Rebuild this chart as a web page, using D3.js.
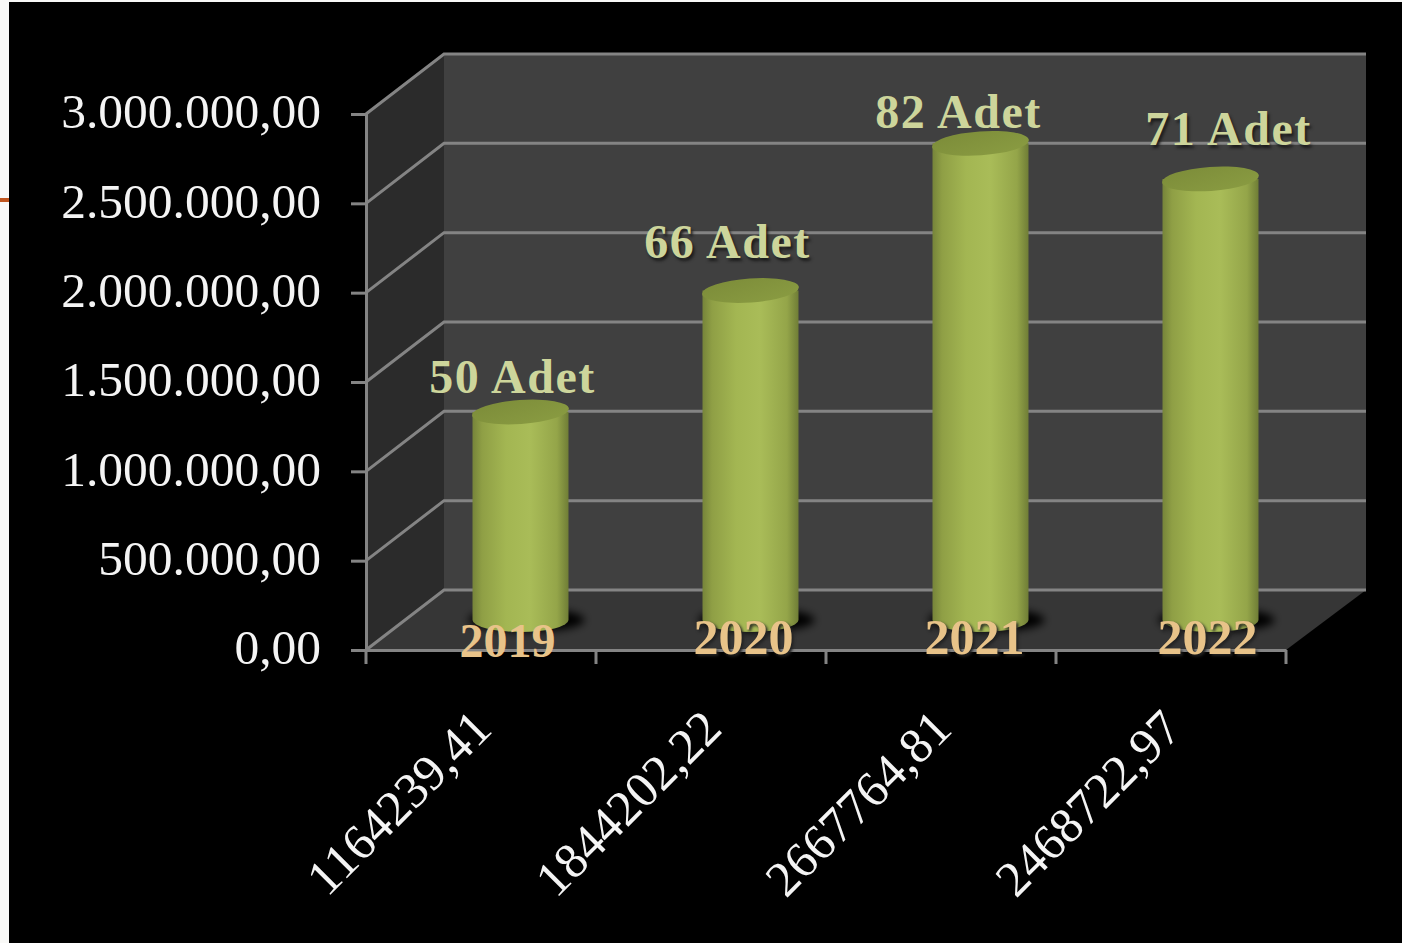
<!DOCTYPE html>
<html>
<head>
<meta charset="utf-8">
<title>Adet</title>
<script src="https://d3js.org/d3.v7.min.js"></script>
<style>
  html, body { margin: 0; padding: 0; background: #000; overflow: hidden; }
  text { font-family: "Liberation Serif", serif; }
</style>
</head>
<body>
<script>
// data
var years = ["2019", "2020", "2021", "2022"];
var values = [1164239.41, 1844202.22, 2667764.81, 2468722.97];
var valueLabels = ["1164239,41", "1844202,22", "2667764,81", "2468722,97"];
var counts = ["50 Adet", "66 Adet", "82 Adet", "71 Adet"];
var yTicks = [0, 500000, 1000000, 1500000, 2000000, 2500000, 3000000];

var width = 1402, height = 943;
var left = 366, right = 1286, top_ = 114, bottom = 650;
var depthX = 78, depthY = -60; // shift from front of the floor to back wall

var svg = d3.select("body").append("svg")
  .attr("width", width).attr("height", height)
  .style("display", "block");

var x = d3.scaleBand().domain(valueLabels).range([left, right]);
var y = d3.scaleLinear().domain([0, 3000000]).range([bottom, top_]);
var trFormat = d3.formatLocale({ decimal: ",", thousands: ".", grouping: [3], currency: ["", ""] }).format(",.2f");

// page background, with the bits of the slide showing at the edges
svg.append("rect").attr("width", width).attr("height", height).attr("fill", "#000");
svg.append("rect").attr("width", 9).attr("height", height).attr("fill", "#f9f9f7");
svg.append("rect").attr("width", width).attr("height", 2).attr("fill", "#f9f9f7");
svg.append("rect").attr("x", 0).attr("y", 198).attr("width", 9).attr("height", 4).attr("fill", "#c0561f");

var defs = svg.append("defs");
var cyl = defs.append("linearGradient").attr("id", "cyl");
[[0, "#76843a"], [0.1, "#8f9f45"], [0.35, "#a3b652"], [0.6, "#a9bc58"], [0.88, "#94a549"], [1, "#6f7d36"]].forEach(function (s) {
  cyl.append("stop").attr("offset", s[0]).attr("stop-color", s[1]);
});
var cap = defs.append("linearGradient").attr("id", "cap").attr("x1", 0).attr("x2", 1).attr("y1", 0).attr("y2", 1);
cap.append("stop").attr("offset", 0).attr("stop-color", "#7c8c39");
cap.append("stop").attr("offset", 1).attr("stop-color", "#8a9c42");
defs.append("filter").attr("id", "blur").attr("x", "-30%").attr("width", "160%").attr("y", "-80%").attr("height", "260%")
  .append("feGaussianBlur").attr("stdDeviation", 4);

// walls and floor
svg.append("rect")
  .attr("x", left + depthX).attr("y", top_ + depthY)
  .attr("width", right - left + 2).attr("height", bottom - top_)
  .attr("fill", "#404040");
svg.append("polygon")
  .attr("points", [[left, top_], [left + depthX, top_ + depthY], [left + depthX, bottom + depthY], [left, bottom]].join(" "))
  .attr("fill", "#2b2b2b");
svg.append("polygon")
  .attr("points", [[left, bottom], [left + depthX, bottom + depthY], [right + depthX + 2, bottom + depthY], [right, bottom]].join(" "))
  .attr("fill", "#363636");

// grid lines run round the side wall and along the back
var grid = svg.append("g").attr("fill", "none").attr("stroke", "#848484").attr("stroke-width", 3);
grid.selectAll("path").data(yTicks).enter().append("path")
  .attr("d", function (d) {
    var yy = y(d);
    return "M" + left + "," + yy + "L" + (left + depthX) + "," + (yy + depthY) + "L" + (right + depthX + 2) + "," + (yy + depthY);
  });

// axes
var yAxis = svg.append("g").attr("transform", "translate(" + left + ",0)")
  .call(d3.axisLeft(y).tickValues(yTicks).tickFormat(trFormat).tickSize(15).tickPadding(30));
yAxis.selectAll("text").attr("fill", "#f4f4f4").style("font-size", "49.5px")
  .attr("dy", "0.28em");

var xAxis = svg.append("g").attr("transform", "translate(0," + bottom + ")")
  .call(d3.axisBottom(x).tickSize(0).tickFormat(""));
xAxis.selectAll(".tick").remove();
// ticks sit on the band edges, not the centres
xAxis.selectAll("line.edge").data(valueLabels.concat(["end"])).enter().append("line")
  .attr("class", "edge")
  .attr("x1", function (d, i) { return left + i * x.step(); })
  .attr("x2", function (d, i) { return left + i * x.step(); })
  .attr("y1", 0).attr("y2", 14);
svg.selectAll(".domain, .tick line, line.edge").attr("stroke", "#848484").attr("stroke-width", 3);

svg.selectAll("text.value").data(valueLabels).enter().append("text")
  .attr("class", "value")
  .attr("text-anchor", "end")
  .attr("transform", function (d) { return "translate(" + (x(d) + x.step() / 2 + 13) + ",731) rotate(-45)"; })
  .attr("fill", "#f4f4f4")
  .style("font-size", "50px")
  .text(function (d) { return d; });

// cylinders stand halfway back on the floor
var rx = 48, ry = 12;
var midX = depthX / 2 + 0.5, midY = depthY / 2;
function cx(i) { return x(valueLabels[i]) + x.bandwidth() / 2 + midX; }
function topY(v) { return y(v) + midY; }
var floorY = y(0) + midY;

var bars = svg.selectAll("g.bar").data(values).enter().append("g").attr("class", "bar");
bars.append("ellipse")
  .attr("cx", function (d, i) { return cx(i) + 6; })
  .attr("cy", floorY)
  .attr("rx", rx + 10).attr("ry", ry)
  .attr("fill", "#000").attr("filter", "url(#blur)");
bars.append("path")
  .attr("d", function (d, i) {
    var c = cx(i), t = topY(d);
    return "M" + (c - rx) + "," + t + "L" + (c - rx) + "," + floorY +
      "A" + rx + "," + ry + " 0 0 0 " + (c + rx) + "," + floorY +
      "L" + (c + rx) + "," + t + "Z";
  })
  .attr("fill", "url(#cyl)");
bars.append("ellipse")
  .attr("cx", 0).attr("cy", 0)
  .attr("rx", rx + 0.5).attr("ry", ry)
  .attr("transform", function (d, i) { return "translate(" + cx(i) + "," + topY(d) + ") rotate(-4)"; })
  .attr("fill", "url(#cap)");

// these labels were dragged by hand in the original, so each has its own nudge
var countNudge = [[-8, -19], [-23, -33], [-22, -15], [18, -34]];
var countHalo = [false, true, false, true];
var yearNudge = [-13, -7, -6, -3];
var yearBase = [657, 654, 654, 654];
var yearSize = [48, 50, 50, 50];
var yearHalo = [false, true, true, true];

svg.selectAll("text.count").data(counts).enter().append("text")
  .attr("class", "count")
  .attr("x", function (d, i) { return cx(i) + countNudge[i][0]; })
  .attr("y", function (d, i) { return topY(values[i]) + countNudge[i][1]; })
  .attr("text-anchor", "middle")
  .attr("fill", "#cdd59b")
  .style("font-size", "48px").style("font-weight", "bold").style("letter-spacing", "1.5px")
  .style("text-shadow", function (d, i) { return countHalo[i] ? "2px 3px 3px #1c1c1c" : "none"; })
  .text(function (d) { return d; });

svg.selectAll("text.year").data(years).enter().append("text")
  .attr("class", "year")
  .attr("x", function (d, i) { return cx(i) + yearNudge[i]; })
  .attr("y", function (d, i) { return yearBase[i]; })
  .attr("text-anchor", "middle")
  .attr("fill", "#e8c389")
  .style("font-size", function (d, i) { return yearSize[i] + "px"; }).style("font-weight", "bold")
  .style("text-shadow", function (d, i) { return yearHalo[i] ? "2px 2px 3px #222" : "none"; })
  .text(function (d) { return d; });
</script>
</body>
</html>
